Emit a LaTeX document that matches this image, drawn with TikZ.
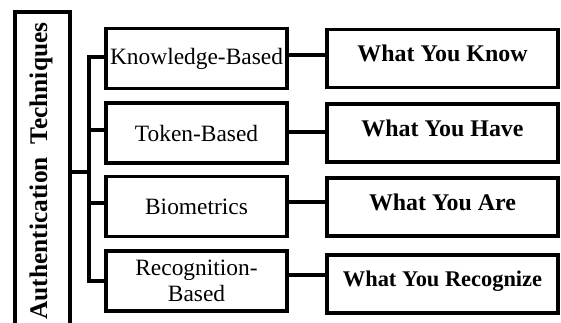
\documentclass[tikz,border=0pt]{standalone}
\usepackage{fontspec}
\setmainfont{Liberation Serif}
\usepackage{tikz}
\usetikzlibrary{positioning}

\begin{document}
\begin{tikzpicture}[
  x=1bp, y=-1bp,
  line width=3.3bp,
  techbox/.style={draw, minimum width=181bp, minimum height=60bp, align=center, font=\fontsize{23.5}{26}\selectfont},
  cluebox/.style={draw, minimum width=231bp, minimum height=58bp, align=center, text depth=10bp, font=\fontsize{24}{27}\selectfont\bfseries}
]
\clip (0,0) rectangle (561,322);
\fill[white] (0,0) rectangle (561,322);

% Root box, running off the bottom edge
\node[draw, minimum width=55bp, minimum height=330bp] (auth) at (42.5,177) {};
\node[rotate=90, font=\fontsize{25.5}{28}\selectfont\bfseries] (authtext) at (41,171) {Authentication\ \ Techniques};

% Technique categories
\node[techbox] (knowledge) at (196.5,58.5) {Knowledge-Based};
\node[techbox] (token) at (196.5,133) {Token-Based};
\node[techbox] (bio) at (196.5,206.5) {Biometrics};
\node[techbox] (recog) at (196.5,281) {Recognition-\\Based};

% Factors
\node[cluebox] (know) at (442.5,58.5) {What You Know};
\node[cluebox] (have) at (442.5,133) {What You Have};
\node[cluebox] (are) at (442.5,207) {What You Are};
\node[cluebox, font=\fontsize{22.5}{26}\selectfont\bfseries] (recognize) at (442.5,284) {What You Recognize};

% Tree connectors
\coordinate (hub) at (89,172);
\draw (auth.east |- hub) -- (hub);
\draw ([yshift=1.5]knowledge.west) -- ([yshift=1.5]knowledge.west -| hub) -- (recog.west -| hub) -- (recog.west);
\draw ([yshift=3]token.west) -- ([yshift=3]token.west -| hub);
\draw ([yshift=3.5]bio.west) -- ([yshift=3.5]bio.west -| hub);

% Category to factor
\draw ([yshift=3.5]knowledge.east) -- ([yshift=3.5]knowledge.east -| know.west);
\draw ([yshift=1]token.east) -- ([yshift=1]token.east -| have.west);
\draw ([yshift=4.5]bio.east) -- ([yshift=4.5]bio.east -| are.west);
\draw ([yshift=6]recog.east) -- ([yshift=6]recog.east -| recognize.west);
\end{tikzpicture}
\end{document}
